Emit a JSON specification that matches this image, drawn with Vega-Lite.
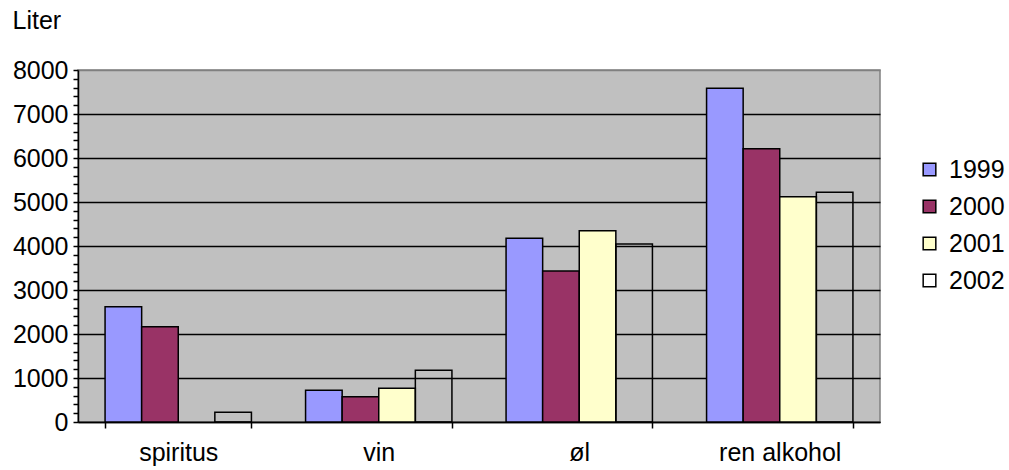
{
  "$schema": "https://vega.github.io/schema/vega-lite/v6.json",
  "width": 802,
  "height": 352,
  "autosize": {"type": "none"},
  "padding": {"left": 78, "top": 70, "right": 129, "bottom": 45},
  "background": "white",
  "config": {
    "font": "Liberation Sans",
    "view": {"fill": "#C0C0C0", "stroke": "#808080", "strokeWidth": 1.5}
  },
  "data": {
    "values": [
      {"kategori": "spiritus", "år": "1999", "liter": 2620},
      {"kategori": "spiritus", "år": "2000", "liter": 2166},
      {"kategori": "spiritus", "år": "2002", "liter": 220},
      {"kategori": "vin", "år": "1999", "liter": 720},
      {"kategori": "vin", "år": "2000", "liter": 575},
      {"kategori": "vin", "år": "2001", "liter": 766},
      {"kategori": "vin", "år": "2002", "liter": 1175},
      {"kategori": "øl", "år": "1999", "liter": 4175},
      {"kategori": "øl", "år": "2000", "liter": 3432},
      {"kategori": "øl", "år": "2001", "liter": 4348},
      {"kategori": "øl", "år": "2002", "liter": 4045},
      {"kategori": "ren alkohol", "år": "1999", "liter": 7584},
      {"kategori": "ren alkohol", "år": "2000", "liter": 6212},
      {"kategori": "ren alkohol", "år": "2001", "liter": 5121},
      {"kategori": "ren alkohol", "år": "2002", "liter": 5220}
    ]
  },
  "mark": {"type": "bar", "stroke": "black", "strokeWidth": 1.5, "opacity": 1},
  "encoding": {
    "x": {
      "field": "kategori",
      "type": "nominal",
      "sort": ["spiritus", "vin", "øl", "ren alkohol"],
      "scale": {"paddingInner": 0.27, "paddingOuter": 0.135},
      "axis": {
        "title": null,
        "labelAngle": 0,
        "labelFontSize": 25,
        "labelColor": "black",
        "labelPadding": 12,
        "tickBand": "extent",
        "tickColor": "black",
        "tickSize": 6,
        "tickWidth": 1.5,
        "domainColor": "black",
        "domainWidth": 1.5,
        "grid": false
      }
    },
    "xOffset": {
      "field": "år",
      "type": "nominal",
      "scale": {"domain": ["1999", "2000", "2001", "2002"], "padding": 0, "paddingInner": 0, "paddingOuter": 0}
    },
    "y": {
      "field": "liter",
      "type": "quantitative",
      "scale": {"domain": [0, 8000], "nice": false},
      "axis": {
        "title": "Liter",
        "titleAngle": 0,
        "titleAlign": "left",
        "titleBaseline": "alphabetic",
        "titleX": -66,
        "titleY": -42,
        "titleFontSize": 25,
        "titleFontWeight": "normal",
        "titleColor": "black",
        "values": [0,200,400,600,800,1000,1200,1400,1600,1800,2000,2200,2400,2600,2800,3000,3200,3400,3600,3800,4000,4200,4400,4600,4800,5000,5200,5400,5600,5800,6000,6200,6400,6600,6800,7000,7200,7400,7600,7800,8000],
        "format": "d",
        "labelExpr": "datum.value % 1000 === 0 ? datum.label : ''",
        "labelOverlap": false,
        "labelBound": false,
        "labelFlush": false,
        "labelFontSize": 25,
        "labelColor": "black",
        "labelPadding": 5,
        "tickColor": "black",
        "tickSize": 5,
        "tickWidth": 1.5,
        "domainColor": "black",
        "domainWidth": 1.5,
        "grid": true,
        "gridColor": {"condition": {"test": "datum.value === 8000", "value": "#808080"}, "value": "black"},
        "gridOpacity": {"condition": {"test": "datum.value % 1000 !== 0", "value": 0}, "value": 1},
        "gridWidth": 1.5
      }
    },
    "color": {
      "field": "år",
      "type": "nominal",
      "scale": {"domain": ["1999", "2000", "2001", "2002"], "range": ["#9999FF", "#993366", "#FFFFCC", "transparent"]},
      "legend": {
        "title": null,
        "orient": "none",
        "legendX": 839,
        "legendY": 87,
        "padding": 0,
        "symbolType": "square",
        "symbolSize": 160,
        "symbolStrokeColor": "black",
        "symbolStrokeWidth": 1.5,
        "symbolOpacity": 1,
        "labelFontSize": 25,
        "labelColor": "black",
        "labelOffset": 7,
        "labelLimit": 200,
        "rowPadding": 11
      }
    }
  }
}
